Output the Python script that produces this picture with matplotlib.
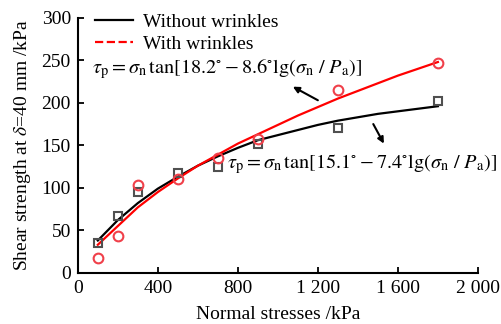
import numpy as np
import matplotlib
matplotlib.use("Agg")
import matplotlib.pyplot as plt
from matplotlib.lines import Line2D

plt.rcParams["font.family"] = ["Liberation Serif", "DejaVu Serif"]
plt.rcParams["mathtext.fontset"] = "stix"

# ── data ──
x_pts = [100, 200, 300, 500, 700, 900, 1300, 1800]
y_without = [35.5, 66.5, 94.7, 117.4, 124.5, 151, 170.4, 202.6]
y_with = [17.5, 43.7, 103.7, 110.4, 135.5, 157, 215, 246.5]

x_fit = [100, 200, 300, 400, 500, 600, 700, 800, 900, 1000,
         1100, 1200, 1300, 1400, 1500, 1600, 1700, 1800]
fit_without = [38, 62, 82, 99, 113, 126, 137, 147, 156, 162,
               168, 174, 179, 183, 187, 190, 193, 196]
fit_with = [33, 55, 77, 95, 111, 126, 139, 152, 163, 174,
            185, 195, 205, 214, 223, 232, 240, 248]

x_ticks = [0, 400, 800, 1200, 1600, 2000]
x_ticklabels = ["0", "400", "800", "1 200", "1 600", "2 000"]
y_ticks = [0, 50, 100, 150, 200, 250, 300]

RED = "#ff0000"
fs = 14
fs_eq = 14.6

fig = plt.figure(figsize=(5.02, 3.24), dpi=100)
ax = fig.add_axes([0.155, 0.158, 0.797, 0.787])

ax.plot(x_fit, fit_without, color="black", lw=1.6, zorder=3)
ax.plot(x_fit, fit_with, color=RED, lw=1.6, zorder=3)
ax.plot(x_pts, y_without, ls="none", marker="s", ms=6, mfc="none",
        mec="#505050", mew=1.5, zorder=4)
ax.plot(x_pts, y_with, ls="none", marker="o", ms=7, mfc="none",
        mec="#f0404a", mew=1.5, zorder=4)

ax.set_xlim(0, 2000)
ax.set_ylim(0, 300)
ax.set_xticks(x_ticks)
ax.set_xticklabels(x_ticklabels)
ax.set_yticks(y_ticks)
ax.tick_params(direction="in", length=4, width=1.3, labelsize=fs, pad=5)
for s in ["top", "right"]:
    ax.spines[s].set_visible(False)
for s in ["left", "bottom"]:
    ax.spines[s].set_linewidth(1.5)

ax.set_xlabel("Normal stresses /kPa", fontsize=fs, labelpad=7)
ax.set_ylabel(r"Shear strength at $\delta$=40 mm /kPa", fontsize=fs, labelpad=6)

handles = [Line2D([], [], color="black", lw=1.6),
           Line2D([], [], color=RED, lw=1.6, ls="--")]
ax.legend(handles, ["Without wrinkles", "With wrinkles"], loc="upper left",
          bbox_to_anchor=(0.0, 1.085), frameon=False, fontsize=fs,
          handlelength=1.95, handletextpad=0.5, labelspacing=0.2)

eq_top = (r"$\tau_{\rm p} = \sigma_{\rm n}\,{\rm tan}[18.2^{\circ} - 8.6^{\circ}"
          r"{\rm lg}(\sigma_{\rm n}\ /\ P_{\rm a})]$")
eq_bot = (r"$\tau_{\rm p} = \sigma_{\rm n}\,{\rm tan}[15.1^{\circ} - 7.4^{\circ}"
          r"{\rm lg}(\sigma_{\rm n}\ /\ P_{\rm a})]$")
ax.text(70, 240, eq_top, fontsize=fs_eq, va="center", ha="left")
ax.text(745, 128, eq_bot, fontsize=fs_eq, va="center", ha="left")

ax.annotate("", xy=(1075, 219), xytext=(1200, 203),
            arrowprops=dict(arrowstyle="-|>", color="black", lw=1.5,
                            mutation_scale=9, shrinkA=0, shrinkB=0))
ax.annotate("", xy=(1530, 152), xytext=(1477, 175),
            arrowprops=dict(arrowstyle="-|>", color="black", lw=1.5,
                            mutation_scale=9, shrinkA=0, shrinkB=0))

fig.savefig("out.png", dpi=100)
